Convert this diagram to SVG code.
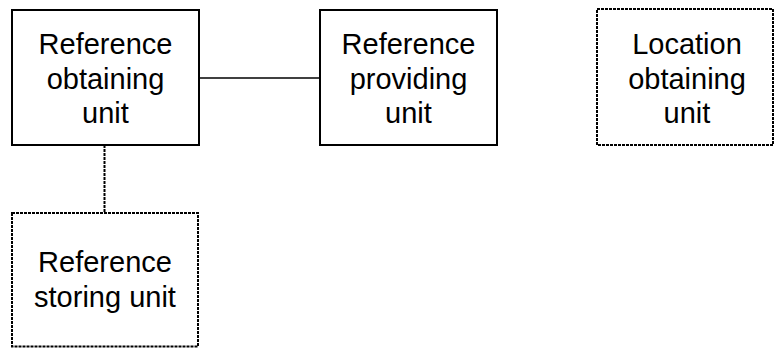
<svg xmlns="http://www.w3.org/2000/svg" width="775" height="348" viewBox="0 0 775 348">
<style>
.solid{fill:#fff;stroke:#000;stroke-width:2}
.dash{fill:#fff;stroke:#000;stroke-width:2;stroke-dasharray:3 1}
.t{font-family:"Liberation Sans",Arial,sans-serif;font-size:29px;fill:#000;text-anchor:middle}
.c{stroke:#000;stroke-width:1.5;fill:none}
.cd{stroke:#000;stroke-width:2;fill:none;stroke-dasharray:3 1}
</style>
<rect width="775" height="348" fill="#fff"/>
<g id="connectors">
<line class="c" x1="199" y1="78" x2="320" y2="78"/>
<line class="cd" x1="104.5" y1="145" x2="104.5" y2="213"/>
</g>
<g id="ref-obtaining">
<rect class="solid" x="12" y="10" width="187" height="135"/>
<text class="t" x="105.5" y="54">Reference</text>
<text class="t" x="105.5" y="88.5">obtaining</text>
<text class="t" x="105.5" y="122.5">unit</text>
</g>
<g id="ref-providing">
<rect class="solid" x="320" y="10" width="177" height="135"/>
<text class="t" x="408.5" y="54">Reference</text>
<text class="t" x="408.5" y="88.5">providing</text>
<text class="t" x="408.5" y="122.5">unit</text>
</g>
<g id="location-obtaining">
<rect class="dash" x="597" y="9" width="176" height="136"/>
<text class="t" x="687" y="54">Location</text>
<text class="t" x="687" y="88.5">obtaining</text>
<text class="t" x="687" y="122.5">unit</text>
</g>
<g id="ref-storing">
<rect class="dash" x="12" y="213" width="186" height="133.5"/>
<text class="t" x="105" y="272">Reference</text>
<text class="t" x="105" y="307">storing unit</text>
</g>
</svg>
